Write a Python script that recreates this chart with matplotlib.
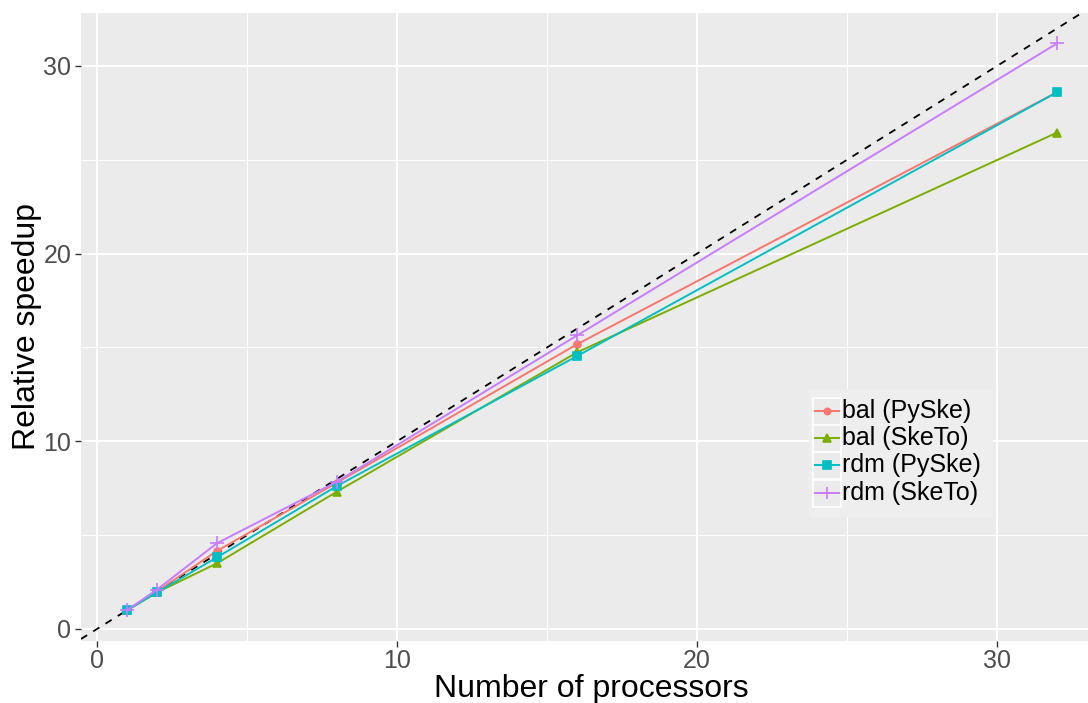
import matplotlib
matplotlib.use('Agg')
import matplotlib.pyplot as plt
from matplotlib.patches import Rectangle
from matplotlib.lines import Line2D

plt.rcParams['font.family'] = ['Liberation Sans', 'DejaVu Sans']

# data
procs = [1, 2, 4, 8, 16, 32]
bal_pyske = [1.0, 2.0, 4.16, 7.8, 15.17, 28.6]
bal_sketo = [1.0, 1.95, 3.5, 7.32, 14.74, 26.45]
rdm_pyske = [1.0, 1.95, 3.82, 7.62, 14.54, 28.6]
rdm_sketo = [1.0, 2.1, 4.57, 7.85, 15.64, 31.2]
labels = ['bal (PySke)', 'bal (SkeTo)', 'rdm (PySke)', 'rdm (SkeTo)']

series = [bal_pyske, bal_sketo, rdm_pyske, rdm_sketo]
colors = ['#F8766D', '#7CAE00', '#00BFC4', '#C77CFF']
markers = ['o', '^', 's', '+']
msizes = [5, 6, 6, 10]

W, H = 1088, 703
fig = plt.figure(figsize=(W / 100, H / 100), dpi=100)
ax = fig.add_axes([81 / W, 1 - 641 / H, 1 - 81 / W, (641 - 13) / H])
ax.set_facecolor('#EBEBEB')
for s in ax.spines.values():
    s.set_visible(False)

ax.set_xlim(-0.533, 33.03)
ax.set_ylim(-0.64, 32.82)
ax.set_xticks([0, 10, 20, 30])
ax.set_yticks([0, 10, 20, 30])
ax.set_xticks([5, 15, 25], minor=True)
ax.set_yticks([5, 15, 25], minor=True)
ax.grid(which='major', color='white', lw=1.4)
ax.grid(which='minor', color='white', lw=0.7)
ax.set_axisbelow(True)
ax.tick_params(which='major', length=4, width=1.0, color='#333333',
               labelsize=18, labelcolor='#4D4D4D', pad=3)
ax.tick_params(axis='x', pad=2)
ax.tick_params(which='minor', length=0)

# y = x reference
ax.axline((0, 0), slope=1, color='black', lw=1.3, ls=(0, (4, 4)), zorder=3)

for ys, c, m, ms in zip(series, colors, markers, msizes):
    ax.plot(procs, ys, color=c, lw=1.4, marker=m, ms=ms, mew=1.2, zorder=4)

ax.set_xlabel('Number of processors', fontsize=23)
ax.set_ylabel('Relative speedup', fontsize=23)
ax.xaxis.set_label_coords((591 - 81) / 1007, (641 - 674) / 628)
ax.yaxis.set_label_coords((42 - 81) / 1007, 0.5)

# legend drawn in ggplot style (grey keys with white borders)
fx = lambda px: px / W
fy = lambda py: 1 - py / H
fig.patches.append(Rectangle((fx(809), fy(517)), fx(993) - fx(809), fy(389) - fy(517),
                             transform=fig.transFigure, facecolor='#EEEEEE',
                             edgecolor='none', zorder=5))
row_y = [411, 438, 465, 493]
for ry, c, m, ms, lab in zip(row_y, colors, markers, msizes, labels):
    fig.patches.append(Rectangle((fx(813), fy(ry + 13.5)), fx(841) - fx(813), 27 / H,
                                 transform=fig.transFigure, facecolor='#EBEBEB',
                                 edgecolor='white', lw=1.2, zorder=6))
    fig.lines.append(Line2D([fx(815), fx(839)], [fy(ry), fy(ry)], transform=fig.transFigure,
                            color=c, lw=1.4, zorder=7))
    fig.lines.append(Line2D([fx(827)], [fy(ry)], transform=fig.transFigure, color=c,
                            marker=m, ms=ms * 0.9, mew=1.2, zorder=7))
    fig.text(fx(842), fy(ry), lab, fontsize=18, va='center', ha='left', zorder=8)

fig.savefig('out.png', dpi=100)
